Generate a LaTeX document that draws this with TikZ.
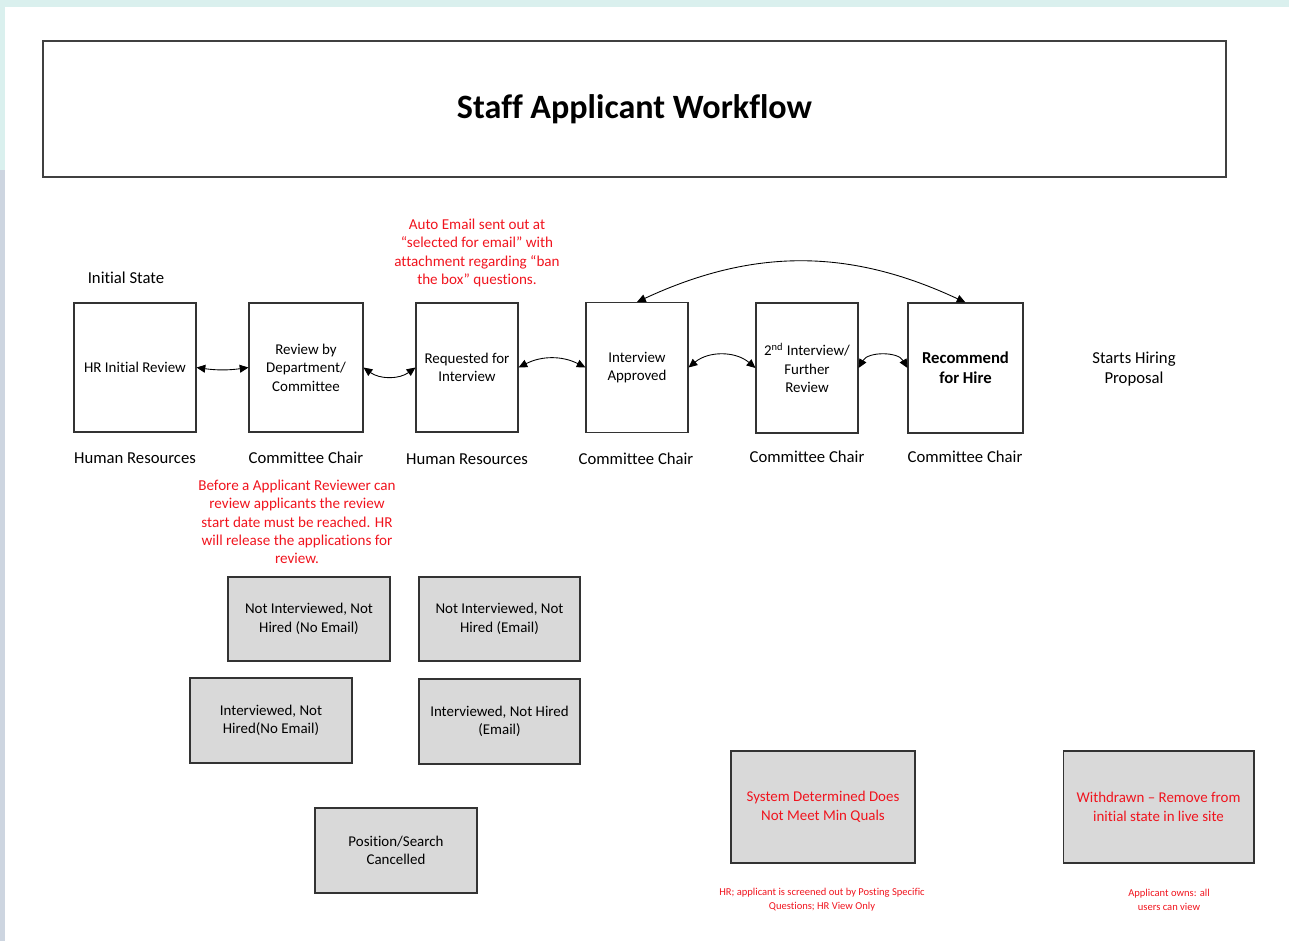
\documentclass[tikz,border=0pt]{standalone}
\usepackage{fontspec}
\setmainfont{Carlito}[Ligatures=NoCommon]
\usetikzlibrary{arrows.meta}
\definecolor{notered}{RGB}{240,20,30}
\definecolor{boxgray}{RGB}{217,217,217}
\definecolor{edgeteal}{RGB}{218,240,238}
\definecolor{edgeblue}{RGB}{205,213,224}

\tikzset{
  statebox/.style={draw=black!80, line width=0.6pt, align=center, inner sep=2pt, font=\fontsize{8.5}{10.5}\selectfont},
  endbox/.style={statebox, fill=boxgray},
  role/.style={font=\fontsize{9.5}{11.5}\selectfont, align=center},
  note/.style={text=notered, align=center, font=\fontsize{8.6}{10.4}\selectfont},
  tinynote/.style={text=notered, align=center, font=\fontsize{6}{8}\selectfont},
  twoway/.style={{Triangle[length=5pt,width=4.5pt]}-{Triangle[length=5pt,width=4.5pt]}, line width=0.5pt},
}

\begin{document}
\begin{tikzpicture}[x=0.02cm, y=0.02cm]
        % Page and window edge
        \useasboundingbox (0,0) rectangle (1289,-941);
        \fill[edgeteal] (0,0) rectangle (1289,-7);
        \fill[edgeteal] (0,0) rectangle (5,-170);
        \fill[edgeblue] (0,-170) rectangle (5,-941);
        % Title
        \node[draw=black!75, line width=1pt, minimum width=23.66cm, minimum height=2.72cm, font=\fontsize{19.4}{23}\selectfont\bfseries] (title) at (634.5,-109) {Staff Applicant Workflow};
        % Main states
        \node[role] (initial) at (126,-278) {Initial State};
        \node[statebox, minimum width=2.44cm, minimum height=2.58cm] (hr) at (135,-367.5) {HR Initial Review};
        \node[statebox, minimum width=2.28cm, minimum height=2.58cm] (dept) at (306,-367.5) {Review by\\Department/\\Committee};
        \node[statebox, minimum width=2.04cm, minimum height=2.58cm] (req) at (467,-367.5) {Requested for\\Interview};
        \node[statebox, minimum width=2.04cm, minimum height=2.6cm] (appr) at (637,-367.5) {Interview\\Approved};
        \node[statebox, minimum width=2.04cm, minimum height=2.6cm] (second) at (807,-368) {2\textsuperscript{nd} Interview/\\Further\\Review};
        \node[statebox, minimum width=2.3cm, minimum height=2.6cm, font=\fontsize{9.5}{11.5}\selectfont\bfseries] (recom) at (965.5,-368) {Recommend\\for Hire};
        \node[role] (hiring) at (1134,-369) {Starts Hiring\\Proposal};
        % Who owns each state
        \node[role] (hrrole) at (135,-458) {Human Resources};
        \node[role] (deptrole) at (306,-458) {Committee Chair};
        \node[role] (reqrole) at (467,-459) {Human Resources};
        \node[role] (approle) at (636,-459) {Committee Chair};
        \node[role] (secondrole) at (807,-457) {Committee Chair};
        \node[role] (recomrole) at (965,-457) {Committee Chair};
        % Notes
        \node[note] (autonote) at (477,-253) {Auto Email sent out at\\“selected for email” with\\attachment regarding “ban\\the box” questions.};
        \node[note] (releasenote) at (297,-522) {Before a Applicant Reviewer can\\review applicants the review\\start date must be reached. HR\\will release the applications for\\review.};
        % Closing states
        \node[endbox, minimum width=3.24cm, minimum height=1.68cm] (nine) at (309,-619) {Not Interviewed, Not\\Hired (No Email)};
        \node[endbox, minimum width=3.22cm, minimum height=1.68cm] (nie) at (499.5,-619) {Not Interviewed, Not\\Hired (Email)};
        \node[endbox, minimum width=3.24cm, minimum height=1.7cm] (ine) at (271,-720.5) {Interviewed, Not\\Hired(No Email)};
        \node[endbox, minimum width=3.22cm, minimum height=1.7cm] (ie) at (499.5,-721.5) {Interviewed, Not Hired\\(Email)};
        \node[endbox, minimum width=3.24cm, minimum height=1.7cm] (cancel) at (396,-850.5) {Position/Search\\Cancelled};
        \node[endbox, text=notered, minimum width=3.68cm, minimum height=2.24cm] (minquals) at (823,-807) {System Determined Does\\Not Meet Min Quals};
        \node[endbox, text=notered, minimum width=3.82cm, minimum height=2.24cm] (withdrawn) at (1158.5,-807) {Withdrawn -- Remove from\\initial state in live site};
        \node[tinynote] (minnote) at (822,-900) {HR; applicant is screened out by Posting Specific\\Questions; HR View Only};
        \node[tinynote] (withnote) at (1169,-900) {Applicant owns: all\\users can view};
        % Moves between states
        \draw[twoway] (hr.east) to[bend right=8] (dept.west);
        \draw[twoway] (dept.east) to[bend right=36] (req.west);
        \draw[twoway] (req.east) to[bend left=27] (appr.west);
        \draw[twoway] (appr.east) to[bend left=40] (second.west);
        \draw[twoway] (second.east) to[bend left=60] (recom.west);
        \draw[twoway] (appr.north) to[bend left=25] (recom.north);
\end{tikzpicture}
\end{document}
